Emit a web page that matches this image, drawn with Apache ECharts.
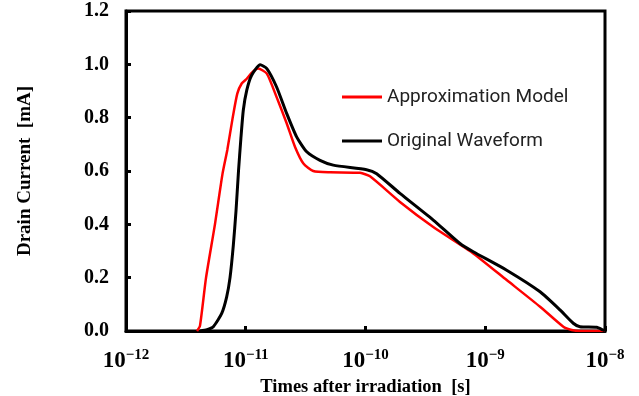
<!DOCTYPE html>
<html>
<head>
<meta charset="utf-8">
<script src="https://cdn.jsdelivr.net/npm/echarts@6/dist/echarts.min.js"></script>
<style>
  html, body { margin: 0; padding: 0; background: #fff; }
  #chart { width: 639px; height: 396px; }
</style>
</head>
<body>
<div id="chart"></div>
<script>
// 读图估计的数据: [时间(s), 漏极电流(mA)]
const approxModel = [
  [3.92e-12, 0], [4.15e-12, 0.02], [4.66e-12, 0.2], [5.53e-12, 0.4], [6.40e-12, 0.59],
  [7.02e-12, 0.68], [7.78e-12, 0.80], [8.50e-12, 0.89], [9.25e-12, 0.928], [1.02e-11, 0.946],
  [1.13e-11, 0.97], [1.27e-11, 0.984], [1.50e-11, 0.965], [1.81e-11, 0.877], [2.20e-11, 0.778],
  [2.58e-11, 0.69], [3.03e-11, 0.628], [3.66e-11, 0.600], [5.06e-11, 0.595], [9.0e-11, 0.593],
  [1.09e-10, 0.58], [1.94e-10, 0.484], [3.68e-10, 0.39], [7.94e-10, 0.291], [1.51e-9, 0.191],
  [2.87e-9, 0.091], [4.49e-9, 0.016], [5.27e-9, 0.004], [6.18e-9, 0], [1e-8, 0]
];
const originalWave = [
  [4.15e-12, 0], [4.75e-12, 0.005], [5.36e-12, 0.016], [6.30e-12, 0.066], [6.93e-12, 0.128],
  [7.39e-12, 0.2], [7.87e-12, 0.32], [8.29e-12, 0.45], [8.70e-12, 0.6], [9.10e-12, 0.72],
  [9.54e-12, 0.828], [1.02e-11, 0.903], [1.12e-11, 0.959], [1.32e-11, 0.998], [1.50e-11, 0.984],
  [1.81e-11, 0.915], [2.20e-11, 0.815], [2.66e-11, 0.728], [3.23e-11, 0.672], [4.17e-11, 0.64],
  [5.38e-11, 0.622], [1.02e-10, 0.605], [1.24e-10, 0.59], [1.94e-10, 0.516], [3.68e-10, 0.416],
  [6.15e-10, 0.328], [7.94e-10, 0.297], [1.51e-9, 0.228], [2.87e-9, 0.147], [4.21e-9, 0.079],
  [5.43e-9, 0.029], [6.18e-9, 0.016], [8.53e-9, 0.014], [9.6e-9, 0.004], [1e-8, 0]
];
const seriesNames = ['Approximation Model', 'Original Waveform'];

const serif = 'Liberation Serif';
const chart = echarts.init(document.getElementById('chart'));
chart.setOption({
  animation: false,
  grid: {
    left: 126, right: 34, top: 11, bottom: 65,
    outerBoundsMode: 'none',
    show: true, borderColor: '#000', borderWidth: 3
  },
  legend: {
    data: seriesNames,
    orient: 'vertical',
    left: 337,
    top: 81,
    icon: 'rect',
    itemWidth: 40,
    itemHeight: 3,
    itemGap: 22,
    textStyle: { fontFamily: 'Roboto', fontSize: 19, lineHeight: 22, color: '#222' }
  },
  xAxis: {
    type: 'log',
    logBase: 10,
    min: 1e-12,
    max: 1e-8,
    name: 'Times after irradiation  [s]',
    nameLocation: 'middle',
    nameGap: 43,
    nameTextStyle: { fontFamily: serif, fontWeight: 'bold', fontSize: 18.5, color: '#000' },
    axisLine: { lineStyle: { color: '#000', width: 3 } },
    axisTick: { inside: true, length: 5, lineStyle: { width: 3, color: '#000' } },
    minorTick: { show: false },
    splitLine: { show: false },
    axisLabel: {
      margin: 17,
      formatter: v => '{b|10}{s|−' + Math.abs(Math.round(Math.log10(v))) + '}',
      rich: {
        b: { fontFamily: serif, fontWeight: 'bold', fontSize: 23, color: '#000' },
        s: { fontFamily: serif, fontWeight: 'bold', fontSize: 15, color: '#000', verticalAlign: 'top', padding: [0, 0, 12, 0] }
      }
    }
  },
  yAxis: {
    type: 'value',
    min: 0,
    max: 1.2,
    interval: 0.2,
    name: 'Drain Current  [mA]',
    nameLocation: 'middle',
    nameGap: 91,
    nameTextStyle: { fontFamily: serif, fontWeight: 'bold', fontSize: 19, color: '#000' },
    axisLine: { show: true, lineStyle: { color: '#000', width: 3 } },
    axisTick: { show: true, inside: true, length: 5, lineStyle: { width: 3, color: '#000' } },
    splitLine: { show: false },
    axisLabel: {
      margin: 17,
      formatter: v => v.toFixed(1),
      fontFamily: serif, fontWeight: 'bold', fontSize: 20, color: '#000'
    }
  },
  series: [
    {
      name: seriesNames[0],
      type: 'line',
      data: approxModel,
      symbol: 'none',
      smooth: 0.2,
      lineStyle: { color: '#ff0000', width: 2.5 },
      itemStyle: { color: '#ff0000' }
    },
    {
      name: seriesNames[1],
      type: 'line',
      data: originalWave,
      symbol: 'none',
      smooth: 0.2,
      lineStyle: { color: '#000', width: 3 },
      itemStyle: { color: '#000' }
    }
  ]
});
</script>
</body>
</html>
